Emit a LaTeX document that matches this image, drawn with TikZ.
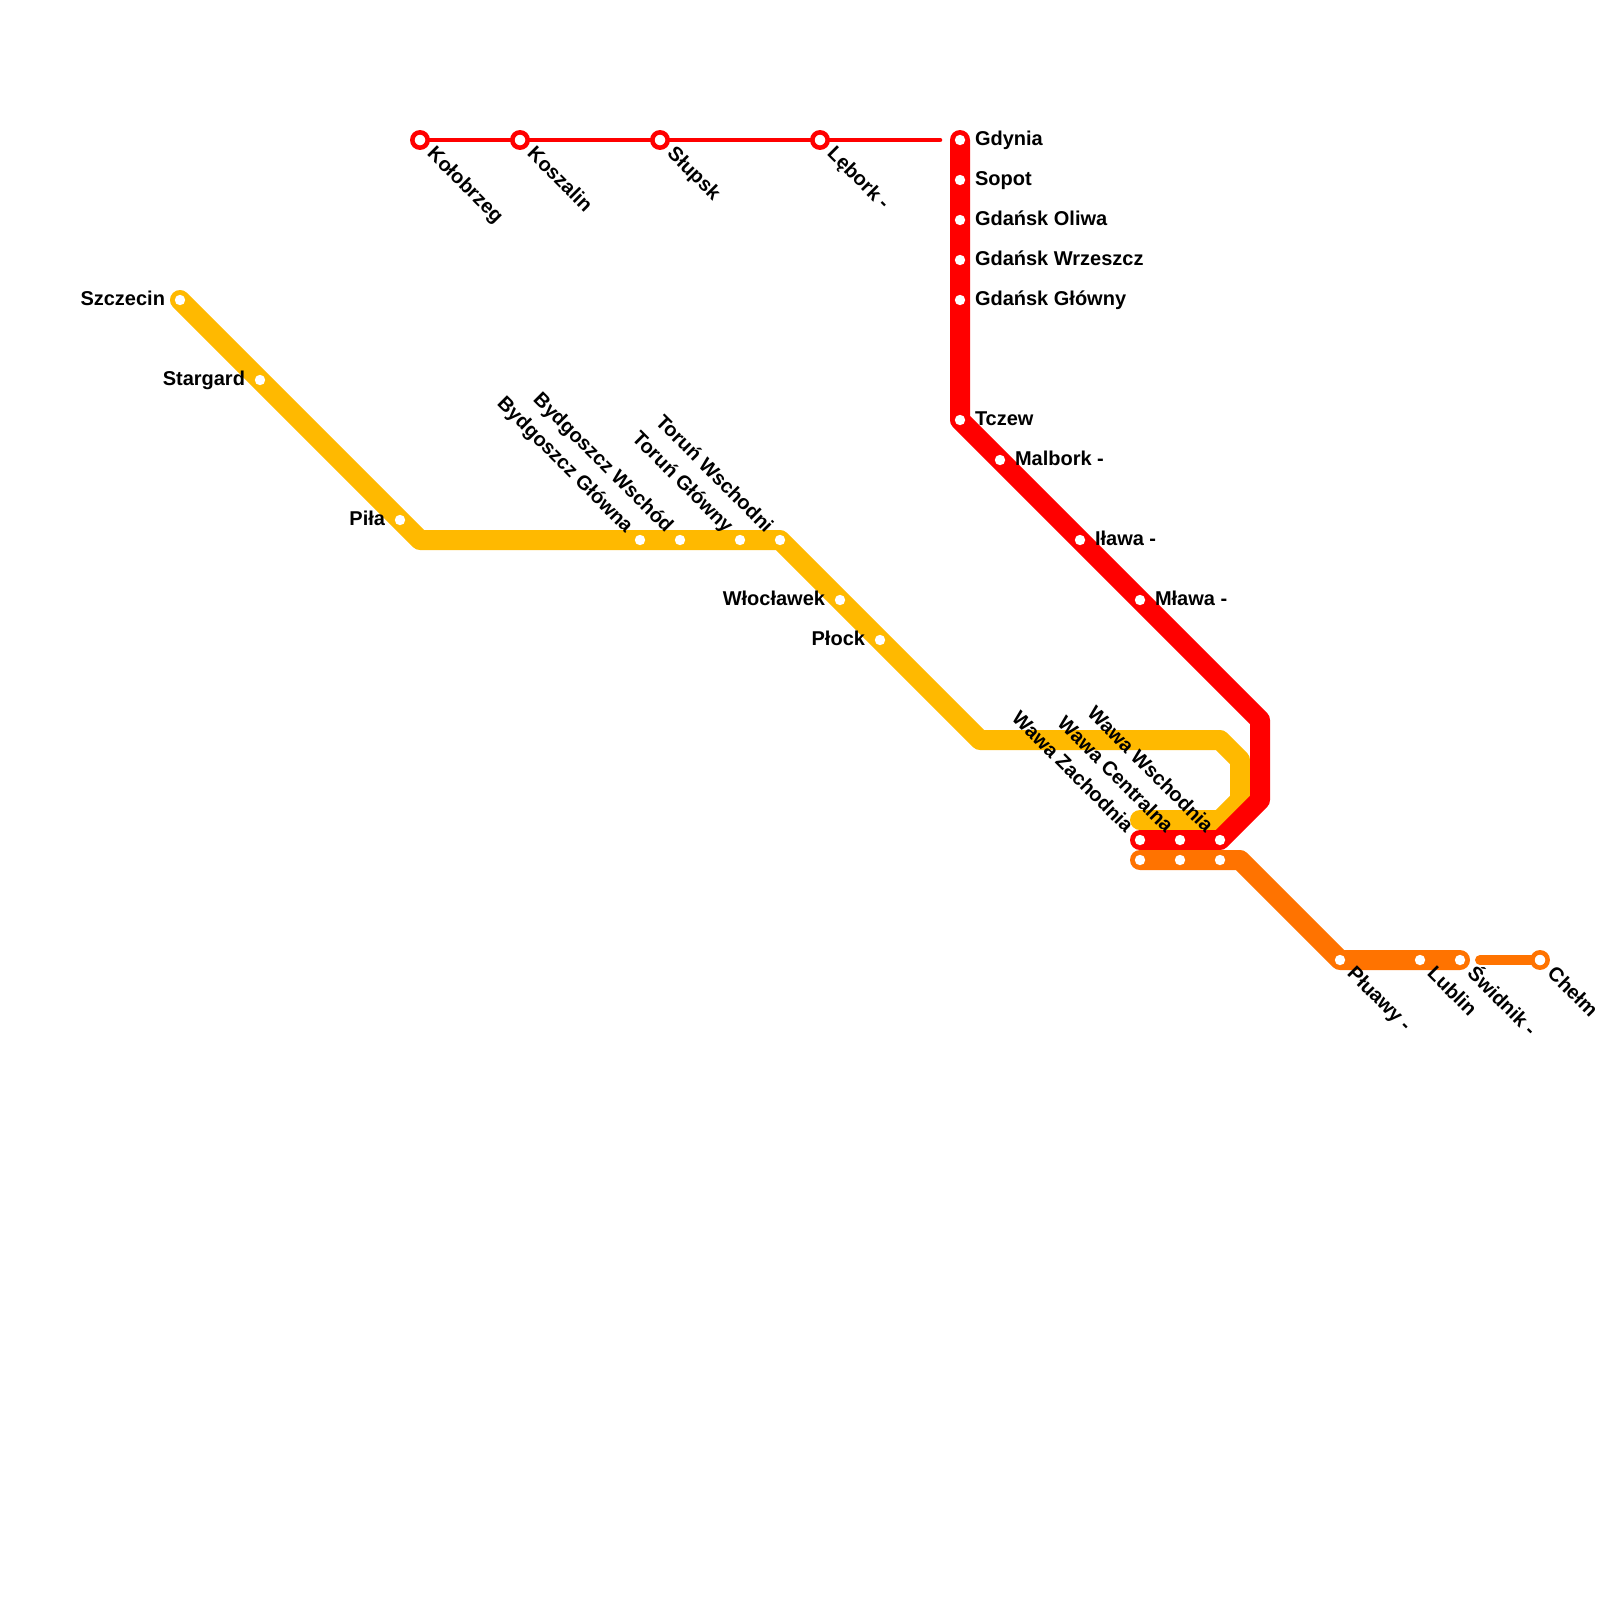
\documentclass[tikz,border=0pt]{standalone}
\usepackage{fontspec}
\setmainfont{Liberation Sans}
\definecolor{lnY}{HTML}{FFB900}
\definecolor{lnR}{HTML}{FF0000}
\definecolor{lnO}{HTML}{FF7300}
\tikzset{
  wide/.style={line width=15pt,line join=round,line cap=round},
  narrow/.style={line width=3.4pt,line join=round,line cap=round},
  narrowO/.style={line width=7.5pt,line join=round,line cap=round},
  stn/.style={circle,fill=white,inner sep=0pt,outer sep=0pt,minimum size=7.8pt},
  ring/.style={circle,fill=white,inner sep=0pt,outer sep=0pt,minimum size=11.5pt,line width=3.4pt},
  lab/.style={inner sep=0pt,outer sep=0pt,text=black,font=\fontsize{15pt}{18pt}\selectfont\bfseries},
  lE/.style={lab,anchor=base west,shift={(11.25pt,-3.75pt)}},
  lW/.style={lab,anchor=base east,shift={(-11.25pt,-3.75pt)}},
  lD/.style={lab,anchor=base west,rotate=-45,shift={(11.25pt,-4.5pt)}},
  lU/.style={lab,anchor=base east,rotate=-45,shift={(-11.25pt,-4.5pt)}},
}
\begin{document}
\begin{tikzpicture}[x=0.75pt,y=-0.75pt]
\useasboundingbox (0,0) rectangle (1600,1600);
% corners
\coordinate (y1) at (180,300);
\coordinate (y2) at (420,540);
\coordinate (y3) at (780,540);
\coordinate (y4) at (980,740);
\coordinate (y5) at (1220,740);
\coordinate (y6) at (1240,760);
\coordinate (y7) at (1240,800);
\coordinate (y8) at (1220,820);
\coordinate (y9) at (1140,820);
\coordinate (r1) at (960,140);
\coordinate (r2) at (960,420);
\coordinate (r3) at (1260,720);
\coordinate (r4) at (1260,800);
\coordinate (r5) at (1220,840);
\coordinate (r6) at (1140,840);
\coordinate (t1) at (420,140);
\coordinate (t2) at (940,140);
\coordinate (o1) at (1140,860);
\coordinate (o2) at (1240,860);
\coordinate (o3) at (1340,960);
\coordinate (o4) at (1460,960);
\coordinate (o5) at (1480,960);
\coordinate (o6) at (1540,960);
% lines
\draw[wide,lnY] (y1)--(y2)--(y3)--(y4)--(y5)--(y6)--(y7)--(y8)--(y9);
\draw[narrow,lnR] (t1)--(t2);
\draw[wide,lnR] (r1)--(r2)--(r3)--(r4)--(r5)--(r6);
\draw[wide,lnO] (o1)--(o2)--(o3)--(o4);
\draw[narrowO,lnO] (o5)--(o6);
% red thin
\node[ring,draw=lnR] (kolobrzeg) at (t1) {};
\node[ring,draw=lnR] (koszalin) at (520,140) {};
\node[ring,draw=lnR] (slupsk) at (660,140) {};
\node[ring,draw=lnR] (lebork) at (820,140) {};
% red
\node[stn] (gdynia) at (r1) {};
\node[stn] (sopot) at (960,180) {};
\node[stn] (oliwa) at (960,220) {};
\node[stn] (wrzeszcz) at (960,260) {};
\node[stn] (glowny) at (960,300) {};
\node[stn] (tczew) at (r2) {};
\node[stn] (malbork) at (1000,460) {};
\node[stn] (ilawa) at (1080,540) {};
\node[stn] (mlawa) at (1140,600) {};
\node[stn] (wz) at (r6) {};
\node[stn] (wc) at (1180,840) {};
\node[stn] (ww) at (1220,840) {};
\node[stn] (wz2) at (o1) {};
\node[stn] (wc2) at (1180,860) {};
\node[stn] (ww2) at (1220,860) {};
% yellow
\node[stn] (szczecin) at (y1) {};
\node[stn] (stargard) at (260,380) {};
\node[stn] (pila) at (400,520) {};
\node[stn] (bg) at (640,540) {};
\node[stn] (bw) at (680,540) {};
\node[stn] (tg) at (740,540) {};
\node[stn] (tw) at (y3) {};
\node[stn] (wloclawek) at (840,600) {};
\node[stn] (plock) at (880,640) {};
% orange
\node[stn] (pulawy) at (o3) {};
\node[stn] (lublin) at (1420,960) {};
\node[stn] (swidnik) at (o4) {};
\node[ring,draw=lnO] (chelm) at (o6) {};
% labels
\node[lD] (lkolobrzeg) at (kolobrzeg) {Kołobrzeg};
\node[lD] (lkoszalin) at (koszalin) {Koszalin};
\node[lD] (lslupsk) at (slupsk) {Słupsk};
\node[lD] (llebork) at (lebork) {Lębork -};
\node[lE] (lgdynia) at (gdynia) {Gdynia};
\node[lE] (lsopot) at (sopot) {Sopot};
\node[lE] (loliwa) at (oliwa) {Gdańsk Oliwa};
\node[lE] (lwrzeszcz) at (wrzeszcz) {Gdańsk Wrzeszcz};
\node[lE] (lglowny) at (glowny) {Gdańsk Główny};
\node[lE] (ltczew) at (tczew) {Tczew};
\node[lE] (lmalbork) at (malbork) {Malbork -};
\node[lE] (lilawa) at (ilawa) {Iława -};
\node[lE] (lmlawa) at (mlawa) {Mława -};
\node[lU] (lwz) at (wz) {Wawa Zachodnia};
\node[lU] (lwc) at (wc) {Wawa Centralna};
\node[lU] (lww) at (ww) {Wawa Wschodnia};
\node[lW] (lszczecin) at (szczecin) {Szczecin};
\node[lW] (lstargard) at (stargard) {Stargard};
\node[lW] (lpila) at (pila) {Piła};
\node[lU] (lbg) at (bg) {Bydgoszcz Główna};
\node[lU] (lbw) at (bw) {Bydgoszcz Wschód};
\node[lU] (ltg) at (tg) {Toruń Główny};
\node[lU] (ltw) at (tw) {Toruń Wschodni};
\node[lW] (lwloclawek) at (wloclawek) {Włocławek};
\node[lW] (lplock) at (plock) {Płock};
\node[lD] (lpulawy) at (pulawy) {Płuawy -};
\node[lD] (llublin) at (lublin) {Lublin};
\node[lD] (lswidnik) at (swidnik) {Świdnik -};
\node[lD] (lchelm) at (chelm) {Chełm};
\end{tikzpicture}
\end{document}
